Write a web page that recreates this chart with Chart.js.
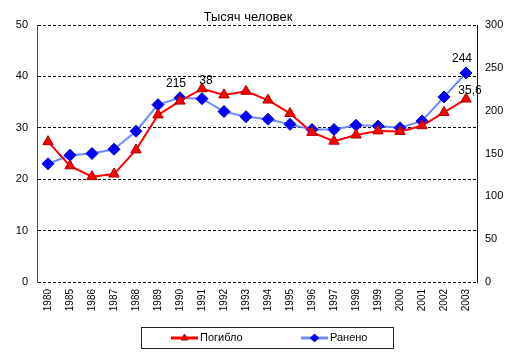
<!DOCTYPE html>
<html>
<head>
<meta charset="utf-8">
<script src="https://cdn.jsdelivr.net/npm/chart.js@4/dist/chart.umd.min.js"></script>
<style>
html, body { margin: 0; padding: 0; background: #fff; }
</style>
</head>
<body>
<canvas id="chart" width="513" height="358"></canvas>
<script>
var years = ['1980', '1985', '1986', '1987', '1988', '1989', '1990', '1991', '1992', '1993',
             '1994', '1995', '1996', '1997', '1998', '1999', '2000', '2001', '2002', '2003'];
// thousands of people, left axis
var killed = [27.3, 22.6, 20.5, 21.0, 25.7, 32.5, 35.2, 37.6, 36.4, 37.1,
              35.4, 32.8, 29.1, 27.4, 28.6, 29.4, 29.3, 30.4, 33.0, 35.6];
// thousands of people, right axis
var wounded = [138, 148, 150, 155, 176, 207, 215, 214, 199, 193,
               190, 184, 178, 178, 183, 182, 180, 188, 216, 244];
var killedNotes = [{ i: 7, text: '38' }, { i: 19, text: '35,6' }];
var woundedNotes = [{ i: 6, text: '215' }, { i: 19, text: '244' }];
var title = 'Тысяч человек';

var FONT = "'Liberation Sans', Arial, sans-serif";

var extras = {
    id: 'extras',
    afterDraw: function (chart) {
        var ctx = chart.ctx;
        var area = chart.chartArea;
        ctx.save();
        ctx.fillStyle = '#000';
        ctx.font = '13px ' + FONT;
        ctx.textAlign = 'center';
        ctx.textBaseline = 'alphabetic';
        ctx.fillText(title, (area.left + area.right) / 2 - 9, 21);

        // point labels
        ctx.font = '12px ' + FONT;
        ctx.textBaseline = 'bottom';
        var x = chart.scales.x;
        killedNotes.forEach(function (n) {
            var px = x.getPixelForValue(n.i);
            var py = chart.scales.y.getPixelForValue(killed[n.i]);
            ctx.fillText(n.text, px + 4, py - 2);
        });
        woundedNotes.forEach(function (n) {
            var px = x.getPixelForValue(n.i);
            var py = chart.scales.y1.getPixelForValue(wounded[n.i]);
            ctx.fillText(n.text, px - 4, py - 8);
        });

        // legend
        ctx.strokeStyle = '#222';
        ctx.lineWidth = 1;
        ctx.strokeRect(141.5, 327.5, 252, 21);
        ctx.font = '11px ' + FONT;
        ctx.textAlign = 'left';
        ctx.textBaseline = 'middle';
        var items = [
            { ds: chart.data.datasets[0], x0: 171 },
            { ds: chart.data.datasets[1], x0: 301 }
        ];
        items.forEach(function (it) {
            var ly = 338;
            ctx.strokeStyle = it.ds.borderColor;
            ctx.lineWidth = 3;
            ctx.beginPath();
            ctx.moveTo(it.x0, ly);
            ctx.lineTo(it.x0 + 27, ly);
            ctx.stroke();
            ctx.fillStyle = it.ds.pointBackgroundColor;
            ctx.strokeStyle = it.ds.pointBorderColor;
            ctx.lineWidth = 1;
            Chart.helpers.drawPoint(ctx, {
                pointStyle: it.ds.pointStyle,
                radius: 4,
                rotation: 0,
                borderWidth: 1
            }, it.x0 + 13.5, ly);
            ctx.fillStyle = '#000';
            ctx.fillText(it.ds.label, it.x0 + 29, ly);
        });
        ctx.restore();
    }
};

new Chart(document.getElementById('chart'), {
    type: 'line',
    data: {
        labels: years,
        datasets: [
            {
                label: 'Погибло',
                data: killed,
                yAxisID: 'y',
                borderColor: '#ff0000',
                borderWidth: 2,
                pointStyle: 'triangle',
                pointRadius: 6,
                pointBackgroundColor: '#ff0000',
                pointBorderColor: '#aa0000',
                pointBorderWidth: 1,
                tension: 0
            },
            {
                label: 'Ранено',
                data: wounded,
                yAxisID: 'y1',
                borderColor: '#6f8cff',
                borderWidth: 2,
                pointStyle: 'rectRot',
                pointRadius: 6,
                pointBackgroundColor: '#0000ff',
                pointBorderColor: '#0000cc',
                pointBorderWidth: 1,
                tension: 0
            }
        ]
    },
    options: {
        responsive: false,
        animation: false,
        layout: { padding: { top: 25, left: 0, right: 0, bottom: 0 } },
        plugins: {
            legend: { display: false },
            tooltip: { enabled: false }
        },
        scales: {
            x: {
                offset: true,
                grid: { display: false, drawTicks: false },
                border: { display: false },
                ticks: {
                    minRotation: 90,
                    maxRotation: 90,
                    padding: 7,
                    color: '#000',
                    font: { family: FONT, size: 10 }
                },
                afterFit: function (s) { s.height = 76; }
            },
            y: {
                position: 'left',
                min: 0,
                max: 50,
                ticks: {
                    stepSize: 10,
                    padding: 9,
                    color: '#000',
                    font: { family: FONT, size: 11 }
                },
                grid: { color: '#000', lineWidth: 1, drawTicks: false },
                border: { color: '#ff0000', width: 1, dash: [3, 2] },
                afterFit: function (s) { s.width = 37; }
            },
            y1: {
                position: 'right',
                min: 0,
                max: 300,
                ticks: {
                    stepSize: 50,
                    padding: 8,
                    color: '#000',
                    font: { family: FONT, size: 11 }
                },
                grid: { display: false, drawTicks: false },
                border: { color: '#0000cc', width: 1 },
                afterFit: function (s) { s.width = 36; }
            }
        }
    },
    plugins: [extras]
});
</script>
</body>
</html>
